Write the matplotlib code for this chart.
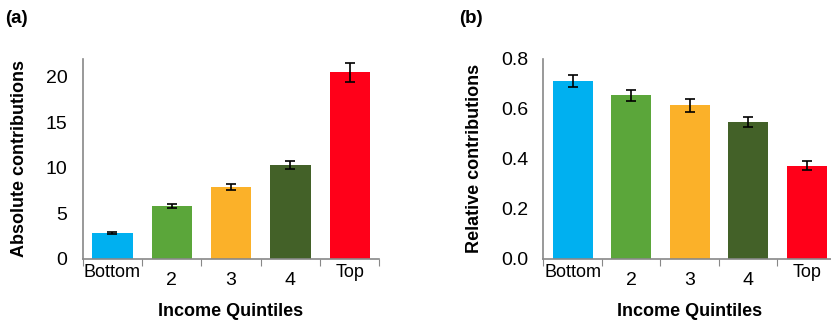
import matplotlib
matplotlib.use("Agg")
import matplotlib.pyplot as plt
import matplotlib.transforms as mtransforms
import numpy as np

plt.rcParams['font.family'] = ['Liberation Sans', 'DejaVu Sans']

categories = ["Bottom", "2", "3", "4", "Top"]
abs_values = [2.8, 5.8, 7.9, 10.3, 20.5]
abs_errors = [0.12, 0.22, 0.3, 0.4, 1.05]
rel_values = [0.71, 0.653, 0.613, 0.546, 0.372]
rel_errors = [0.025, 0.021, 0.026, 0.021, 0.018]
colors = ["#00B0F0", "#5BA63A", "#FBB129", "#436128", "#FF0019"]

fig = plt.figure(figsize=(8.31, 3.22), dpi=100)
ax1 = fig.add_axes([0.0995, 0.196, 0.357, 0.622])
ax2 = fig.add_axes([0.654, 0.196, 0.352, 0.622])

def draw(ax, values, errors, ylim, yticks, yfmt, ylabel):
    x = np.arange(len(categories))
    ax.bar(x, values, width=0.68, color=colors, zorder=2)
    ax.errorbar(x, values, yerr=errors, fmt='none', ecolor='black',
                elinewidth=1.2, capsize=3.5, capthick=1.2, zorder=3)
    ax.set_xlim(-0.5, len(categories) - 0.5)
    ax.set_ylim(*ylim)
    ax.set_yticks(yticks)
    ax.set_yticklabels([yfmt.format(v) for v in yticks], fontsize=14)
    ax.tick_params(axis='y', length=0, pad=11)
    ax.set_xticks(np.arange(-0.5, len(categories), 1.0))
    ax.set_xticklabels([])
    ax.tick_params(axis='x', length=5, color='#888888', direction='out')
    for s in ['top', 'right']:
        ax.spines[s].set_visible(False)
    for s in ['left', 'bottom']:
        ax.spines[s].set_color('#888888')
        ax.spines[s].set_linewidth(1.2)
    trans = mtransforms.blended_transform_factory(ax.transData, ax.transAxes)
    for i, c in enumerate(categories):
        if c in ("Bottom", "Top"):
            ax.text(i, -0.07, c, transform=trans, ha='center', va='center', fontsize=13)
        else:
            ax.text(i, -0.11, c, transform=trans, ha='center', va='center', fontsize=14)
    ax.set_ylabel(ylabel, fontsize=13, fontweight='bold', labelpad=13)
    ax.text(0.5, -0.265, "Income Quintiles", transform=ax.transAxes,
            ha='center', va='center', fontsize=13, fontweight='bold')

draw(ax1, abs_values, abs_errors, (0, 22), [0, 5, 10, 15, 20], "{:.0f}", "Absolute contributions")
draw(ax2, rel_values, rel_errors, (0, 0.8), [0.0, 0.2, 0.4, 0.6, 0.8], "{:.1f}", "Relative contributions")

fig.text(0.006, 0.944, "(a)", fontsize=13.5, fontweight='bold', ha='left', va='center')
fig.text(0.553, 0.944, "(b)", fontsize=13.5, fontweight='bold', ha='left', va='center')

fig.savefig("out.png", dpi=100)
